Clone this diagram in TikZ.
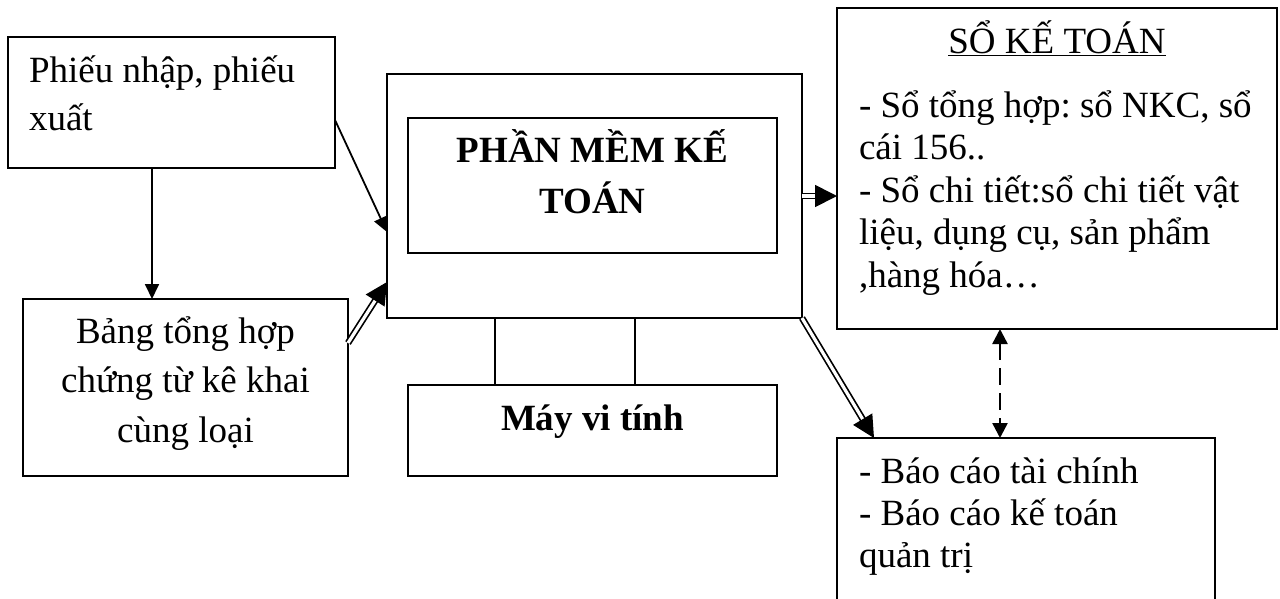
\documentclass[tikz,border=0pt]{standalone}
\usepackage{fontspec}
\setmainfont{Liberation Serif}
\usetikzlibrary{arrows.meta}
\frenchspacing
\begin{document}
\begin{tikzpicture}[x=1pt, y=-1pt,
  box/.style={draw, line width=1.8pt, inner sep=0pt, outer sep=0pt},
  txt/.style={inner sep=0pt, outer sep=0pt},
  conn/.style={line width=1.8pt},
  arr/.style={conn, -{Triangle[length=15pt,width=14pt]}},
  dbl/.style={line width=1.7pt, double, double distance=3.2pt, -{Triangle[length=22pt,width=22pt]}},
  dsh/.style={line width=2.5pt, dash pattern=on 17pt off 8pt,
              {Triangle[length=15pt,width=15pt]}-{Triangle[length=15pt,width=15pt]}},
]
\path[use as bounding box, clip] (0,0) rectangle (1280,598);
\fill[white] (0,0) rectangle (1280,598);

% boxes
\node[box, minimum width=327pt, minimum height=131pt] (phieu) at (171.5,102.5) {};
\node[box, minimum width=325pt, minimum height=177pt] (bang)  at (185.5,387.5) {};
\node[box, minimum width=415pt, minimum height=244pt] (pm)    at (594.5,196) {};
\node[box, minimum width=369pt, minimum height=135pt] (pmin)  at (592.5,185.5) {};
\node[box, minimum width=369pt, minimum height=91pt]  (may)   at (592.5,430.5) {};
\node[box, minimum width=440pt, minimum height=321pt] (so)    at (1057,168.5) {};
\node[box, minimum width=378pt, minimum height=212pt] (bc)    at (1026,544) {};

% texts
\node[txt, anchor=base west, text width=300pt, align=flush left,
      font=\fontsize{37}{48}\selectfont] (tphieu) at (29,82)
  {Phiếu nhập, phiếu\\xuất};
\node[txt, anchor=base, text width=320pt, align=flush center,
      font=\fontsize{37}{49.5}\selectfont] (tbang) at (185.5,343)
  {Bảng tổng hợp\\chứng từ kê khai\\cùng loại};
\node[txt, anchor=base, text width=360pt, align=flush center,
      font=\fontsize{37}{51}\selectfont\bfseries] (tpm) at (592.5,162)
  {PHẦN MỀM KẾ\\TOÁN};
\node[txt, anchor=base, font=\fontsize{37}{44}\selectfont\bfseries] (tmay) at (592.5,430)
  {Máy vi tính};
\node[txt, anchor=base, font=\fontsize{37}{44}\selectfont] (tso) at (1057,53)
  {\underline{SỔ KẾ TOÁN}};
\node[txt, anchor=base west, text width=415pt, align=flush left,
      font=\fontsize{37}{42.5}\selectfont] (tsolist) at (859,117)
  {- Sổ tổng hợp: sổ NKC, sổ\\cái 156..\\- Sổ chi tiết:sổ chi tiết vật\\liệu, dụng cụ, sản phẩm\\,hàng hóa…};
\node[txt, anchor=base west, text width=350pt, align=flush left,
      font=\fontsize{37}{42}\selectfont] (tbc) at (859,483)
  {- Báo cáo tài chính\\- Báo cáo kế toán\\quản trị};

% connectors
\draw[arr] ([yshift=-17.5pt]phieu.east) -- ([yshift=-36pt]pm.west);
\draw[arr] ([xshift=-19.5pt]phieu.south) -- ([xshift=-19.5pt]phieu.south |- bang.north);
\draw[dbl] ([yshift=44.5pt]bang.east) -- ([yshift=-86pt]pm.west);
\draw[dbl] (pm.east) -- (pm.east -| so.west);
\draw[dbl] (pm.south east) -- ([xshift=37pt]bc.north west);
\draw[dsh] ([xshift=-57pt]so.south) -- ([xshift=-57pt]so.south |- bc.north);
\draw[conn] ([xshift=-99.5pt]pm.south) -- ([xshift=-99.5pt]pm.south |- may.north);
\draw[conn] ([xshift=40.5pt]pm.south) -- ([xshift=40.5pt]pm.south |- may.north);
\end{tikzpicture}
\end{document}
